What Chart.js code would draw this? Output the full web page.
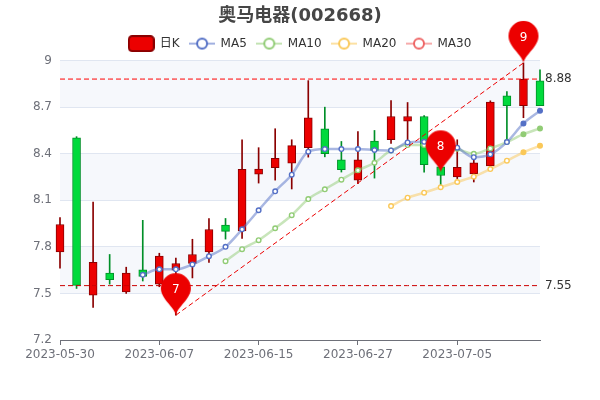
<!DOCTYPE html>
<html><head><meta charset="utf-8">
<style>html,body{margin:0;padding:0;background:#fff}canvas{display:block}</style>
<script src="https://cdn.jsdelivr.net/npm/chart.js@4"></script>
</head><body><canvas id="c" width="600" height="400"></canvas>
<script>
const titleText = '奥马电器(002668)';
const categories = ['2023-05-30','2023-05-31','2023-06-01','2023-06-02','2023-06-05','2023-06-06','2023-06-07','2023-06-08','2023-06-09','2023-06-12','2023-06-13','2023-06-14','2023-06-15','2023-06-16','2023-06-19','2023-06-20','2023-06-21','2023-06-26','2023-06-27','2023-06-28','2023-06-29','2023-06-30','2023-07-03','2023-07-04','2023-07-05','2023-07-06','2023-07-07','2023-07-10','2023-07-11','2023-07-12'];
const candleOpen  = [7.768,8.503,7.489,7.631,7.510,7.652,7.560,7.650,7.693,7.768,7.940,7.903,8.269,8.310,8.340,8.439,8.560,8.361,8.230,8.481,8.490,8.610,8.640,8.315,8.250,8.270,8.321,8.773,8.709,8.870];
const candleClose = [7.944,7.552,7.701,7.588,7.631,7.610,7.740,7.693,7.751,7.912,7.900,8.300,8.301,8.370,8.452,8.632,8.400,8.297,8.361,8.421,8.640,8.640,8.330,8.260,8.312,8.342,8.732,8.709,8.880,8.709];
const candleLow   = [7.663,7.532,7.410,7.560,7.500,7.580,7.543,7.360,7.600,7.700,7.850,7.854,8.211,8.230,8.173,8.378,8.380,8.282,8.207,8.243,8.466,8.486,8.282,8.190,8.240,8.218,8.310,8.475,8.632,8.709];
const candleHigh  = [7.989,8.510,8.089,7.751,7.669,7.971,7.759,7.728,7.849,7.982,7.983,8.490,8.439,8.561,8.490,8.871,8.700,8.479,8.542,8.550,8.743,8.730,8.645,8.320,8.490,8.370,8.741,8.800,8.985,8.940];
const ma5  = [null,null,null,null,null,7.620,7.655,7.655,7.687,7.740,7.800,7.913,8.036,8.158,8.265,8.413,8.430,8.430,8.430,8.424,8.421,8.473,8.477,8.480,8.439,8.378,8.396,8.475,8.595,8.677];
const ma10 = [null,null,null,null,null,null,null,null,null,null,7.708,7.785,7.843,7.920,8.004,8.108,8.171,8.233,8.293,8.342,8.421,8.456,8.456,8.470,8.432,8.400,8.434,8.475,8.526,8.563];
const ma20 = [null,null,null,null,null,null,null,null,null,null,null,null,null,null,null,null,null,null,null,null,8.063,8.117,8.149,8.184,8.218,8.252,8.301,8.355,8.409,8.452];
const ma30 = categories.map(() => null);
const highCloseValue = 8.881, lowCloseValue = 7.5504;
const markHigh = categories.map(() => highCloseValue);
const markLow  = categories.map(() => lowCloseValue);
const diagonalX = ['2023-06-08','2023-07-11'];
const diagonalY = [7.36,8.985];
const pinX = ['2023-06-08','2023-07-04','2023-07-11'];
const pinY = [7.36,8.28,8.985];
const pinLabels = ['7','8','9'];
const legendNames = ['日K','MA5','MA10','MA20','MA30'];
const yTicksMin = 7.2, yTicksMax = 9, yStep = 0.3;

const UP='#ec0000', UPB='#8a0000', DOWN='#00da3c', DOWNB='#008f28';
const C5='#5470c6', C10='#91cc75', C20='#fac858', C30='#ee6666';
const FF='"DejaVu Sans","Noto Sans CJK SC",sans-serif';
const isUp = i => candleClose[i] >= candleOpen[i];
const idx = categories.map((_, i) => i);

function mk(w,h,fn){const c=document.createElement('canvas');c.width=w;c.height=h;fn(c.getContext('2d'));return c;}
const pinImg = mk(32,88,g=>{const cx=16;g.fillStyle=UP;g.beginPath();g.moveTo(cx,44);
  g.bezierCurveTo(cx-2,35,cx-15,28,cx-15,17);g.arc(cx,17,15,Math.PI,0);g.bezierCurveTo(cx+15,28,cx+2,35,cx,44);g.closePath();g.fill();});
const legendBox = mk(27,17,g=>{g.fillStyle=UP;g.strokeStyle=UPB;g.lineWidth=2;g.beginPath();g.roundRect(1,1,25,15,3.5);g.fill();g.stroke();});
const legendLine = col => mk(26,14,g=>{g.globalAlpha=.55;g.strokeStyle=col;g.lineWidth=2;g.beginPath();g.moveTo(0,7);g.lineTo(26,7);g.stroke();g.globalAlpha=1;
  g.fillStyle='#fff';g.lineWidth=2;g.beginPath();g.arc(13,7,5,0,Math.PI*2);g.fill();g.stroke();});

function maSet(label,data,col){return {type:'line',label,data,borderColor:col+'80',borderWidth:2.5,cubicInterpolationMode:'monotone',
  pointRadius:2.3,pointHoverRadius:2.3,pointBorderWidth:1.4,pointBorderColor:col,
  pointBackgroundColor:data.map((_,i)=>i>=28?col:'#fff'),spanGaps:false,clip:false,order:2};}
function markSet(data,col){return {type:'line',label:'mark',data,borderColor:col,borderWidth:1,borderDash:[5,3],pointRadius:0,clip:false,order:1};}

const plugin={id:'deco',
  beforeInit(ch){Chart.layouts.addBox(ch,{position:'top',weight:500,fullSize:true,options:{},
    isHorizontal(){return true;},update(w){this.width=w;this.height=1;},draw(){}});},
  beforeDraw(ch){const {ctx,chartArea:a,scales:{y}}=ch;ctx.save();ctx.fillStyle='rgba(246,248,252,1)';
    for(let i=1;i<y.ticks.length-1;i+=2){const t=y.getPixelForValue(y.ticks[i+1].value),b=y.getPixelForValue(y.ticks[i].value);ctx.fillRect(a.left,t,a.right-a.left,b-t);}
    ctx.restore();},
  afterDraw(ch){const {ctx,chartArea:a,scales:{x,y}}=ch;ctx.save();
    ctx.font='12px '+FF;ctx.fillStyle='#333';ctx.textAlign='left';ctx.textBaseline='middle';
    [highCloseValue,lowCloseValue].forEach(v=>ctx.fillText(v.toFixed(2),a.right+5,y.getPixelForValue(v)));
    ctx.fillStyle='#fff';ctx.textAlign='center';
    pinX.forEach((d,i)=>ctx.fillText(pinLabels[i],x.getPixelForValue(categories.indexOf(d)),y.getPixelForValue(pinY[i])-25));
    ctx.restore();}
};

new Chart(document.getElementById('c'),{
  type:'bar',
  plugins:[plugin],
  data:{labels:categories,datasets:[
    {type:'line',label:'pin',data:pinX.map((d,i)=>({x:d,y:pinY[i]})),showLine:false,pointStyle:pinImg,pointRadius:15,clip:false,order:0},
    markSet(diagonalX.map((d,i)=>({x:d,y:diagonalY[i]})),'#ec0000'),
    markSet(markHigh,'#ff0000'),
    markSet(markLow,'#cc0000'),
    maSet('MA5',ma5,C5),maSet('MA10',ma10,C10),maSet('MA20',ma20,C20),maSet('MA30',ma30,C30),
    {label:'日K',data:idx.map(i=>[candleOpen[i],candleClose[i]]),grouped:false,barThickness:8,borderSkipped:false,borderWidth:1,
      backgroundColor:idx.map(i=>isUp(i)?UP:DOWN),borderColor:idx.map(i=>isUp(i)?UPB:DOWNB),clip:false,order:3},
    {label:'wick',data:idx.map(i=>[candleLow[i],candleHigh[i]]),grouped:false,barThickness:1,borderWidth:0,
      backgroundColor:idx.map(i=>isUp(i)?UPB:DOWNB),clip:false,order:4}
  ]},
  options:{responsive:false,animation:false,events:[],
    layout:{padding:0},
    plugins:{
      tooltip:{enabled:false},
      title:{display:true,text:titleText,color:'#464646',font:{family:FF,size:18,weight:'bold'},padding:{top:6,bottom:0}},
      legend:{position:'top',labels:{usePointStyle:true,pointStyleWidth:25,padding:10,boxHeight:12,color:'#333',font:{family:FF,size:12},
        generateLabels(){return legendNames.map((n,i)=>({text:n,fontColor:'#333',hidden:false,lineWidth:0,
          pointStyle:i===0?legendBox:legendLine([C5,C10,C20,C30][i-1])}));}}}
    },
    scales:{
      x:{offset:false,afterFit(s){s.height=60;},
        afterBuildTicks(s){s.ticks=s.ticks.filter(t=>t.value%6===0);},
        border:{color:'#6E7079'},
        grid:{offset:false,drawOnChartArea:false,drawTicks:true,tickLength:5,tickColor:'#6E7079'},
        ticks:{autoSkip:false,maxRotation:0,color:'#6E7079',font:{family:FF,size:12},padding:3,
          callback(v){return this.getLabelForValue(v);}}},
      y:{min:yTicksMin,max:yTicksMax,afterFit(s){s.width=60;},
        border:{display:false},
        grid:{color:'#E0E6F1',drawTicks:false,lineWidth:1},
        ticks:{stepSize:yStep,color:'#6E7079',font:{family:FF,size:12},padding:8,callback:v=>String(+v.toFixed(1))}},
      yRight:{position:'right',display:true,afterFit(s){s.width=60;},min:0,max:1,
        border:{display:false},grid:{display:false},ticks:{display:false}}
    }
  }
});
</script></body></html>
